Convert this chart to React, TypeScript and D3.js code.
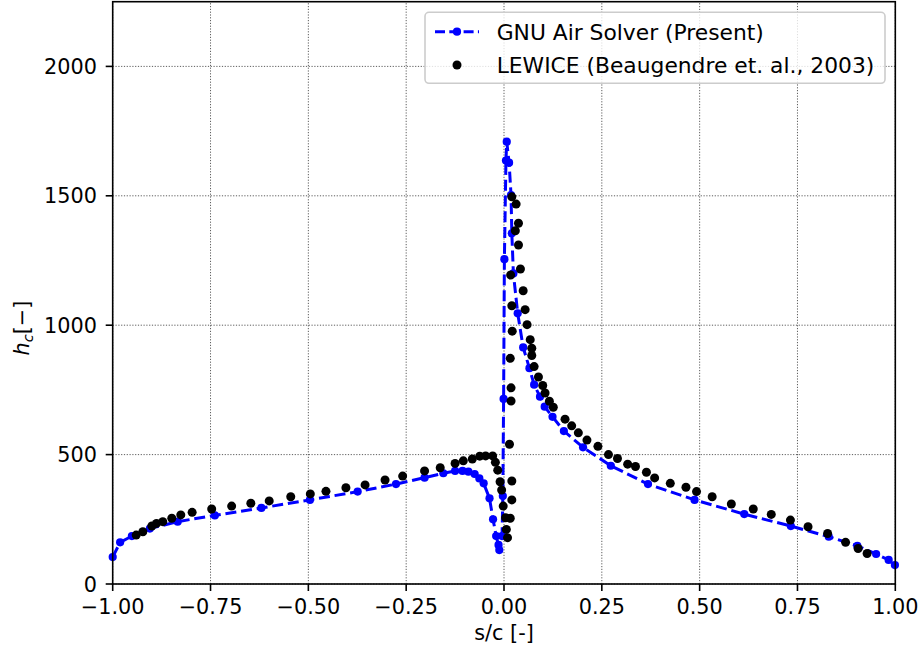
import React from "react";
import * as d3 from "d3";

const gnuX = [-1.0, -0.981, -0.951, -0.905, -0.834, -0.739, -0.62, -0.496, -0.374, -0.276, -0.203, -0.155, -0.125, -0.106, -0.091, -0.075, -0.063, -0.052, -0.037, -0.028, -0.02, -0.014, -0.012, -0.005, -0.003, -0.001, 0.001, 0.005, 0.007, 0.013, 0.018, 0.02, 0.024, 0.035, 0.049, 0.065, 0.077, 0.092, 0.104, 0.124, 0.153, 0.202, 0.273, 0.368, 0.487, 0.614, 0.733, 0.83, 0.903, 0.951, 0.983, 0.999];
const gnuY = [104, 161, 185, 214, 241, 265, 294, 325, 357, 386, 411, 428, 437, 437, 434, 425, 408, 389, 331, 250, 185, 151, 131, 185, 340, 715, 1255, 1636, 1709, 1628, 1503, 1355, 1200, 1046, 914, 834, 770, 724, 685, 646, 591, 528, 457, 386, 325, 270, 224, 183, 147, 116, 93, 73];

const lewX = [-0.94, -0.923, -0.9, -0.888, -0.872, -0.849, -0.826, -0.797, -0.747, -0.696, -0.647, -0.6, -0.545, -0.495, -0.455, -0.404, -0.355, -0.304, -0.259, -0.203, -0.163, -0.125, -0.104, -0.081, -0.062, -0.047, -0.029, -0.022, -0.016, -0.01, -0.006, -0.002, 0.004, 0.006, 0.009, 0.016, 0.02, 0.02, 0.014, 0.018, 0.018, 0.016, 0.021, 0.02, 0.017, 0.02, 0.031, 0.037, 0.029, 0.037, 0.042, 0.049, 0.054, 0.059, 0.067, 0.071, 0.071, 0.077, 0.088, 0.099, 0.105, 0.116, 0.126, 0.156, 0.173, 0.19, 0.212, 0.24, 0.267, 0.29, 0.316, 0.336, 0.364, 0.385, 0.425, 0.465, 0.492, 0.532, 0.581, 0.637, 0.683, 0.732, 0.777, 0.827, 0.873, 0.905, 0.928];
const lewY = [189, 202, 224, 234, 241, 254, 267, 277, 290, 301, 312, 321, 337, 348, 358, 372, 383, 402, 417, 437, 449, 466, 476, 483, 494, 495, 495, 470, 440, 395, 363, 301, 256, 211, 179, 254, 325, 398, 540, 707, 758, 872, 977, 1075, 1194, 1496, 1468, 1394, 1365, 1310, 1217, 1133, 1060, 1002, 944, 911, 883, 840, 800, 767, 738, 706, 683, 637, 611, 584, 556, 532, 500, 485, 463, 454, 432, 410, 389, 374, 357, 337, 309, 290, 269, 247, 221, 195, 161, 137, 118];

const xTicks = [-1.0, -0.75, -0.5, -0.25, 0.0, 0.25, 0.5, 0.75, 1.0];
const yTicks = [0, 500, 1000, 1500, 2000];
const legendLabels = ["GNU Air Solver (Present)", "LEWICE (Beaugendre et. al., 2003)"];

const W = 922;
const H = 659;
const FONT = "DejaVu Sans";
const FS = 20.8;
const LFS = 21.8;

export default function App() {
  const x = d3.scaleLinear().domain([-1, 1]).range([112.7, 895.3]);
  const y = d3.scaleLinear().domain([0, 2250]).range([584, 1.7]);
  const [x0, x1] = x.range();
  const [y0, y1] = y.range();

  const gnu = gnuX.map((v, i) => [v, gnuY[i]] as [number, number]);
  const lew = lewX.map((v, i) => [v, lewY[i]] as [number, number]);
  const line = d3
    .line<[number, number]>()
    .x((d) => x(d[0]))
    .y((d) => y(d[1]));

  const fmtX = (v: number) => (v < 0 ? "\u2212" : "") + Math.abs(v).toFixed(2);

  return (
    <svg
      width={W}
      height={H}
      style={{ position: "absolute", left: 0, top: 0, background: "#fff" }}
      fontFamily={FONT}
    >
      <rect x={0} y={0} width={W} height={H} fill="#fff" />
      {/* grid */}
      <g stroke="#333" strokeWidth={0.8} strokeDasharray="1.2,1.6">
        {xTicks.map((t) => (
          <line key={"gx" + t} x1={x(t)} x2={x(t)} y1={y0} y2={y1} />
        ))}
        {yTicks.map((t) => (
          <line key={"gy" + t} x1={x0} x2={x1} y1={y(t)} y2={y(t)} />
        ))}
      </g>
      {/* GNU series */}
      <path
        d={line(gnu) || ""}
        fill="none"
        stroke="#0000ff"
        strokeWidth={3}
        strokeDasharray="11,4.8"
      />
      {gnu.map((d, i) => (
        <circle key={"g" + i} cx={x(d[0])} cy={y(d[1])} r={4.1} fill="#0000ff" />
      ))}
      {/* LEWICE series */}
      {lew.map((d, i) => (
        <circle key={"l" + i} cx={x(d[0])} cy={y(d[1])} r={4.5} fill="#000" />
      ))}
      {/* spines */}
      <rect
        x={x0}
        y={y1}
        width={x1 - x0}
        height={y0 - y1}
        fill="none"
        stroke="#000"
        strokeWidth={1.6}
      />
      {/* x ticks */}
      {xTicks.map((t) => (
        <g key={"xt" + t}>
          <line x1={x(t)} x2={x(t)} y1={y0} y2={y0 + 7} stroke="#000" strokeWidth={1.6} />
          <text x={x(t)} y={613.5} textAnchor="middle" fontSize={FS} fill="#000">
            {fmtX(t)}
          </text>
        </g>
      ))}
      {/* y ticks */}
      {yTicks.map((t) => (
        <g key={"yt" + t}>
          <line x1={x0 - 7} x2={x0} y1={y(t)} y2={y(t)} stroke="#000" strokeWidth={1.6} />
          <text x={97} y={y(t) + 7.6} textAnchor="end" fontSize={FS} fill="#000">
            {t}
          </text>
        </g>
      ))}
      {/* axis labels */}
      <text x={(x0 + x1) / 2} y={640} textAnchor="middle" fontSize={FS} fill="#000">
        s/c [-]
      </text>
      <text
        transform={`translate(29,328) rotate(-90)`}
        textAnchor="middle"
        fontSize={FS}
        fill="#000"
      >
        <tspan fontStyle="italic">h</tspan>
        <tspan fontStyle="italic" fontSize={FS * 0.7} dy={3.5}>
          c
        </tspan>
        <tspan dy={-3.5}>[{"\u2212"}]</tspan>
      </text>
      {/* legend */}
      <rect
        x={425}
        y={12.3}
        width={460}
        height={71}
        rx={4}
        ry={4}
        fill="#fff"
        fillOpacity={0.8}
        stroke="#cccccc"
        strokeWidth={1.6}
      />
      <line
        x1={435}
        x2={479}
        y1={31.7}
        y2={31.7}
        stroke="#0000ff"
        strokeWidth={3}
        strokeDasharray="10,4.3"
      />
      <circle cx={457} cy={31.7} r={4.1} fill="#0000ff" />
      <circle cx={457} cy={65} r={4.5} fill="#000" />
      <text x={496.7} y={31.7 + 8} fontSize={LFS} fill="#000">
        {legendLabels[0]}
      </text>
      <text x={496.7} y={65 + 8} fontSize={LFS} fill="#000">
        {legendLabels[1]}
      </text>
    </svg>
  );
}
